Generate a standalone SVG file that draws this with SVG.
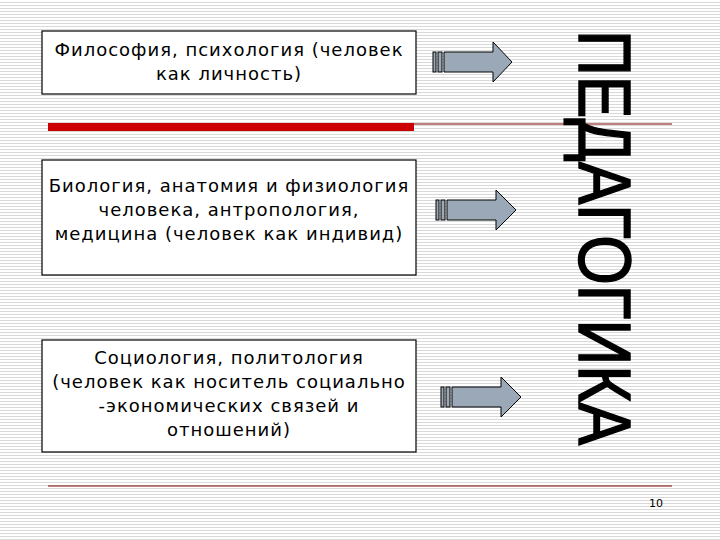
<svg xmlns="http://www.w3.org/2000/svg" width="720" height="540" viewBox="0 0 720 540">
<defs>
<pattern id="stripes" width="8" height="3" patternUnits="userSpaceOnUse"><rect width="8" height="3" fill="#ffffff"/><rect y="2" width="8" height="1" fill="#d9d9d9"/></pattern>
<style>
.box{fill:#fff;stroke:#000;stroke-width:1.2}
.t{font-family:"DejaVu Sans",sans-serif;font-size:18px;letter-spacing:1px;text-anchor:middle;fill:#000}
.arr{fill:#9aa8b8;stroke:#000;stroke-width:1}
</style>
</defs>
<rect width="720" height="540" fill="url(#stripes)"/>
<g id="lines">
<rect x="48" y="123" width="366" height="8" fill="#cc0000"/>
<line x1="414" y1="124" x2="672" y2="124" stroke="#800000" stroke-width="1.2"/>
<line x1="48" y1="486" x2="672" y2="486" stroke="#800000" stroke-width="1.2"/>
</g>
<g id="box1"><rect class="box" x="42" y="31" width="374" height="63"/>
<text class="t" x="229" y="56">Философия, психология (человек</text><text class="t" x="229" y="80">как личность)</text></g>
<g id="box2"><rect class="box" x="42" y="160" width="374" height="115"/>
<text class="t" x="229" y="192">Биология, анатомия и физиология</text><text class="t" x="229" y="216">человека, антропология,</text><text class="t" x="229" y="240">медицина (человек как индивид)</text></g>
<g id="box3"><rect class="box" x="42" y="340" width="374" height="112"/>
<text class="t" x="229" y="364">Социология, политология</text><text class="t" x="229" y="388">(человек как носитель социально</text><text class="t" x="229" y="412">-экономических связей и</text><text class="t" x="229" y="436">отношений)</text></g>
<g id="connectors">
<g transform="translate(433,62)"><rect class="arr" x="0" y="-10" width="3" height="20"/><rect class="arr" x="5" y="-10" width="4" height="20"/><path class="arr" d="M11,-10 H60 V-20 L79,0 L60,20 V10 H11 Z"/></g>
<g transform="translate(436,210)"><rect class="arr" x="0" y="-10" width="3" height="20"/><rect class="arr" x="5" y="-10" width="4" height="20"/><path class="arr" d="M11,-10 H60 V-20 L80,0 L60,20 V10 H11 Z"/></g>
<g transform="translate(441,397)"><rect class="arr" x="0" y="-10" width="3" height="20"/><rect class="arr" x="5" y="-10" width="4" height="20"/><path class="arr" d="M11,-10 H60 V-20 L80,0 L60,20 V10 H11 Z"/></g>
</g>
<g id="title"><text transform="translate(579,30) rotate(90)" x="0" y="0" font-family="'Liberation Sans',sans-serif" font-size="74" textLength="415" lengthAdjust="spacingAndGlyphs" fill="#000" stroke="#000" stroke-width="1.5">ПЕДАГОГИКА</text></g>
<text x="656" y="507" font-family="'DejaVu Sans',sans-serif" font-size="11" text-anchor="middle">10</text>
</svg>
